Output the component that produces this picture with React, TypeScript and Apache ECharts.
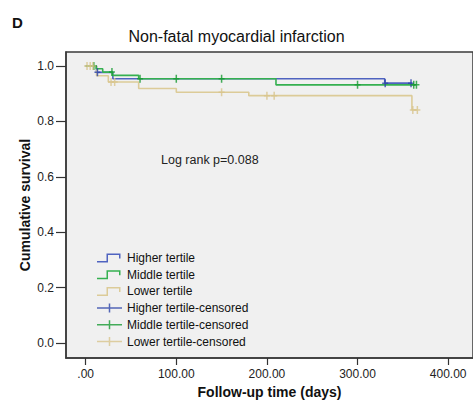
import React, { useEffect, useRef } from "react";
import * as echarts from "echarts";

// Kaplan-Meier step curves: event times and survival after each step
const higherTimes = [0, 12, 30, 330, 360];
const higherSurv = [1.0, 0.977, 0.954, 0.938, 0.938];
const middleTimes = [0, 11.6, 18.8, 29.6, 58.5, 210, 364];
const middleSurv = [1.0, 0.99, 0.978, 0.966, 0.954, 0.932, 0.932];
const lowerTimes = [0, 12, 25, 58.5, 100, 180, 360, 366];
const lowerSurv = [1.0, 0.965, 0.942, 0.919, 0.905, 0.893, 0.841, 0.841];

// Censoring times for each tertile
const higherCensored = [13, 330.5, 359];
const middleCensored = [9, 29, 60, 100, 150, 300, 362, 365];
const lowerCensored = [1.5, 5, 8, 28, 32, 150, 200, 208, 361, 366];

const xTicks = [0, 100, 200, 300, 400];
const yTicks = [0, 0.2, 0.4, 0.6, 0.8, 1.0];

// Frame padding beyond the tick range, in data units
const xRange = [-21.7, 427.4];
const yRange = [-0.054, 1.0505];

const seriesNames = ["Higher tertile", "Middle tertile", "Lower tertile"];
const lineColors = ["#4f63c0", "#35b050", "#dccb98"];
const censorColors = ["#2c43a8", "#169a32", "#d8c48c"];

const FONT = "'Liberation Sans', Arial, sans-serif";

const stepIcon =
  "path://M0,7.5H11V9H0Z M9.5,0H11V9H9.5Z M9.5,0H23.5V1.5H9.5Z M22,0H23.5V5H22Z M24.9,8.9H25V9H24.9Z";
const plusIcon = "path://M0,3.75H25V5.25H0Z M11.75,0H13.25V9H11.75Z";
const censorSymbol = "path://M0,3.25H6V4.75H0Z M2.25,0H3.75V8H2.25Z";

function stepPoints(times: number[], surv: number[]) {
  return times.map((t, i) => [t, surv[i]]);
}

function survivalAt(times: number[], surv: number[], t: number) {
  let s = surv[0];
  for (let i = 0; i < times.length; i++) {
    if (times[i] <= t) s = surv[i];
  }
  return s;
}

export default function App() {
  const ref = useRef<HTMLDivElement>(null);

  useEffect(() => {
    if (!ref.current) return;
    const chart = echarts.init(ref.current, undefined, { renderer: "svg" });

    const curves = [
      [higherTimes, higherSurv, higherCensored],
      [middleTimes, middleSurv, middleCensored],
      [lowerTimes, lowerSurv, lowerCensored],
    ] as [number[], number[], number[]][];

    const lineSeries = curves.map(([t, s], i) => ({
      name: seriesNames[i],
      type: "line",
      step: "end",
      showSymbol: false,
      symbol: "none",
      color: lineColors[i],
      lineStyle: { color: lineColors[i], width: 1.6 },
      data: stepPoints(t, s),
      z: 3 + (i === 1 ? 1 : 0),
    }));

    const censorSeries = curves.map(([t, s, c], i) => ({
      name: seriesNames[i] + "-censored",
      type: "scatter",
      symbol: censorSymbol,
      symbolSize: [6, 8],
      color: censorColors[i],
      itemStyle: { color: censorColors[i] },
      data: c.map((ct) => [ct, survivalAt(t, s, ct)]),
      z: 6,
    }));

    const legendData = [
      ...seriesNames.map((n) => ({ name: n, icon: stepIcon })),
      ...seriesNames.map((n) => ({ name: n + "-censored", icon: plusIcon })),
    ];

    const axisLine = { show: true, onZero: false, lineStyle: { color: "#3a3a3a", width: 1.5 } };

    chart.setOption({
      animation: false,
      backgroundColor: "#ffffff",
      title: {
        text: "Non-fatal myocardial infarction",
        left: "center",
        top: 23,
        textStyle: { fontFamily: FONT, fontSize: 16, fontWeight: "normal", color: "#111" },
      },
      legend: {
        orient: "vertical",
        left: 92,
        top: 247,
        itemWidth: 25,
        itemHeight: 9,
        itemGap: 4.7,
        symbolKeepAspect: true,
        textStyle: { fontFamily: FONT, fontSize: 12, color: "#111", lineHeight: 12 },
        data: legendData,
      },
      grid: {
        left: 66,
        right: -8,
        top: 52,
        bottom: 50,
        show: true,
        backgroundColor: "#f0f0f0",
        borderColor: "#3a3a3a",
        borderWidth: 1.5,
      },
      xAxis: {
        type: "value",
        position: "bottom",
        min: xRange[0],
        max: xRange[1],
        name: "Follow-up time (days)",
        nameLocation: "middle",
        nameGap: 24,
        nameTextStyle: { fontFamily: FONT, fontSize: 14, fontWeight: "bold", color: "#111" },
        axisLine,
        axisTick: {
          show: true,
          inside: false,
          length: 7,
          customValues: xTicks,
          lineStyle: { color: "#333", width: 1.2 },
        },
        axisLabel: {
          fontFamily: FONT,
          fontSize: 12,
          color: "#222",
          margin: 10,
          customValues: xTicks,
          formatter: (v: number) => (v === 0 ? ".00" : v.toFixed(2)),
        },
        splitLine: { show: false },
      },
      yAxis: {
        type: "value",
        position: "left",
        min: yRange[0],
        max: yRange[1],
        name: "Cumulative survival",
        nameLocation: "middle",
        nameGap: 34,
        nameMoveOverlap: false,
        nameTextStyle: { fontFamily: FONT, fontSize: 14, fontWeight: "bold", color: "#111" },
        axisLine,
        axisTick: {
          show: true,
          inside: false,
          length: 10,
          customValues: yTicks,
          lineStyle: { color: "#333", width: 1.2 },
        },
        axisLabel: {
          fontFamily: FONT,
          fontSize: 12,
          color: "#222",
          margin: 12,
          customValues: yTicks,
          formatter: (v: number) => v.toFixed(1),
        },
        splitLine: { show: false },
      },
      graphic: [
        {
          type: "text",
          left: 12,
          top: 15,
          style: { text: "D", font: `bold 15px ${FONT}`, fill: "#111" },
        },
        {
          type: "text",
          left: 161,
          top: 153,
          style: { text: "Log rank p=0.088", font: `12.5px ${FONT}`, fill: "#222" },
        },
      ],
      series: [...lineSeries, ...censorSeries],
    });

    return () => chart.dispose();
  }, []);

  return <div ref={ref} style={{ width: 473, height: 408, position: "absolute", left: 0, top: 0 }} />;
}
